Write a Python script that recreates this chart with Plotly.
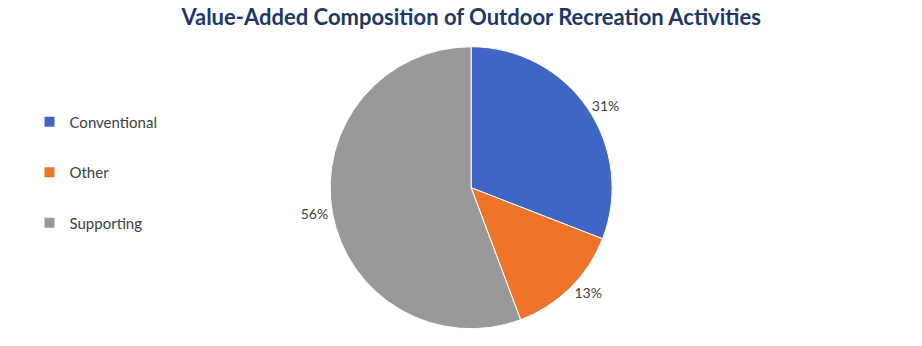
import plotly.graph_objects as go

categories = ["Conventional", "Other", "Supporting"]
values = [30.9, 13.4, 55.7]
colors = ["#3F66C5", "#EE7429", "#999999"]

fig = go.Figure()
fig.add_trace(go.Pie(
    labels=categories, values=values, sort=False, direction="clockwise",
    rotation=0, marker=dict(colors=colors, line=dict(color="white", width=1)),
    textposition="outside", texttemplate="%{percent:.0%}",
    textfont=dict(family="Lato", size=14, color="#404040"),
    showlegend=False, domain=dict(x=[0.28, 0.742], y=[0.05, 0.865]),
    hoverinfo="label+percent",
))
for cat, col in zip(categories, colors):
    fig.add_trace(go.Scatter(
        x=[None], y=[None], mode="markers", name=cat, legendgroup=cat,
        marker=dict(symbol="square", size=10, color=col),
    ))

fig.update_layout(
    width=922, height=346, margin=dict(l=0, r=0, t=0, b=0),
    paper_bgcolor="white", plot_bgcolor="white",
    title=dict(text="<b>Value-Added Composition of Outdoor Recreation Activities</b>",
               x=0.511, xanchor="center", y=0.95, yanchor="middle",
               font=dict(family="Lato", size=22, color="#1F3864")),
    legend=dict(x=0.032, xanchor="left", y=0.695, yanchor="top",
                traceorder="grouped", tracegroupgap=28,
                font=dict(family="Lato", size=15, color="#404040"),
                itemwidth=30),
    xaxis=dict(visible=False), yaxis=dict(visible=False),
)
fig.write_html("out.html")
